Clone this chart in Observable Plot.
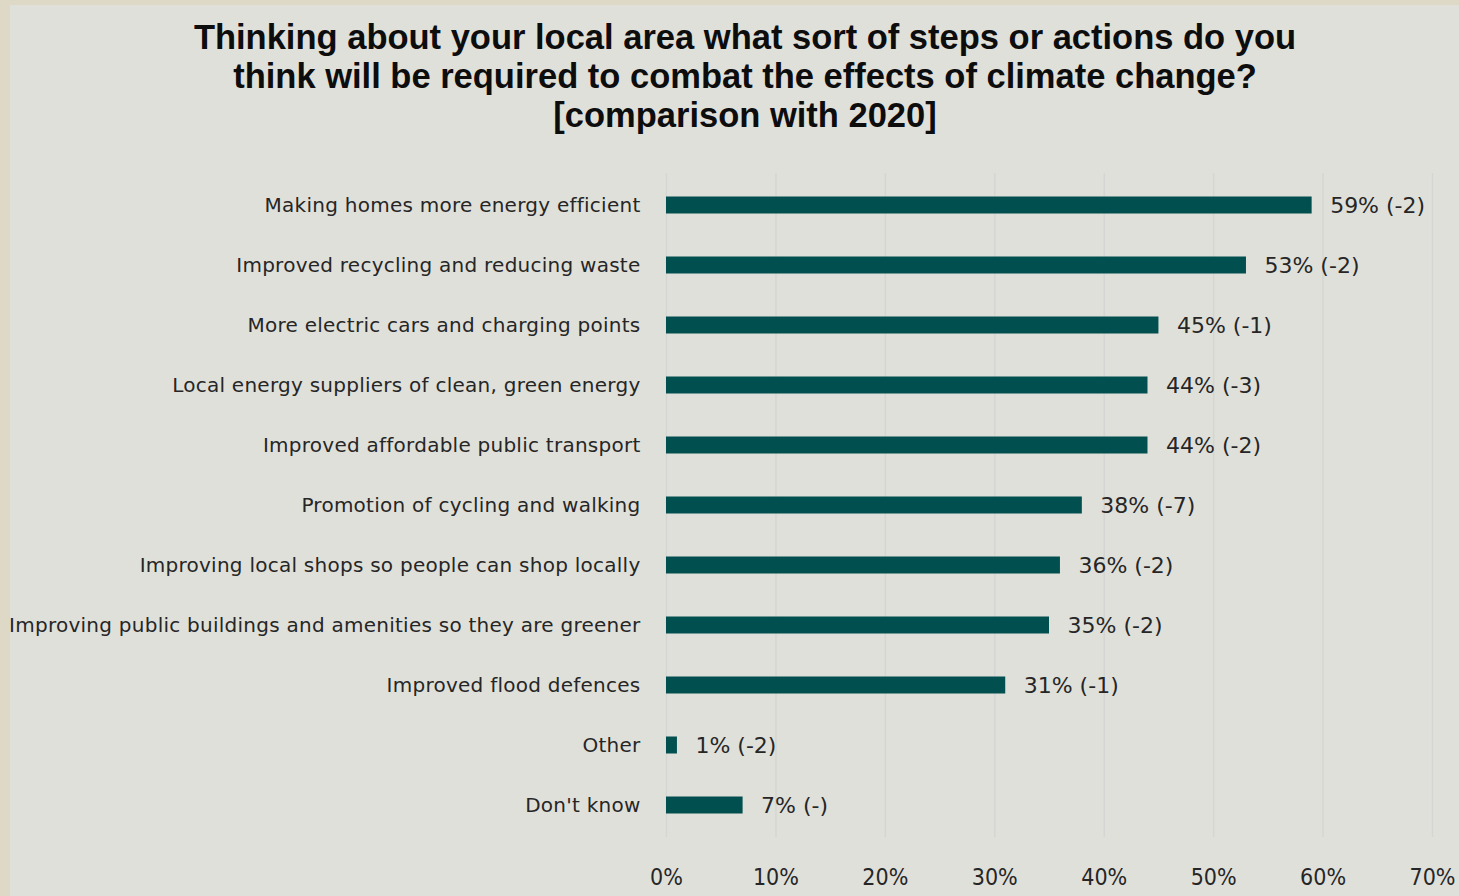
<!DOCTYPE html>
<html>
<head>
<meta charset="utf-8">
<script src="https://cdn.jsdelivr.net/npm/d3@7"></script>
<script src="https://cdn.jsdelivr.net/npm/@observablehq/plot@0.6"></script>
<style>
  html, body { margin: 0; padding: 0; }
  body { width: 1459px; height: 896px; overflow: hidden; background: #ded8c7; position: relative; font-family: "Liberation Sans", Arial, sans-serif; }
  #panel { position: absolute; left: 10px; top: 5px; right: 0; bottom: 0; background: #e0e0da; }
  #title { position: absolute; left: 0; width: 1490px; top: 18px; text-align: center; font-weight: bold; font-size: 34.5px; line-height: 39px; color: #0d0d0d; font-family: "Liberation Sans", Arial, sans-serif; }
  #chart { position: absolute; left: 0; top: 0; }
  #chart svg { background: transparent; }
  #chart g[aria-label="y-axis tick label"] text { letter-spacing: 0.25px; }
</style>
</head>
<body>
<div id="panel"></div>
<div id="title">Thinking about your local area what sort of steps or actions do you<br>think will be required to combat the effects of climate change?<br>[comparison with 2020]</div>
<div id="chart"></div>
<script>
const categories = [
  "Making homes more energy efficient",
  "Improved recycling and reducing waste",
  "More electric cars and charging points",
  "Local energy suppliers of clean, green energy",
  "Improved affordable public transport",
  "Promotion of cycling and walking",
  "Improving local shops so people can shop locally",
  "Improving public buildings and amenities so they are greener",
  "Improved flood defences",
  "Other",
  "Don't know"
];
const values = [59, 53, 45, 44, 44, 38, 36, 35, 31, 1, 7];
const changes = ["-2", "-2", "-1", "-3", "-2", "-7", "-2", "-2", "-1", "-2", "-"];
const xTicks = [0, 10, 20, 30, 40, 50, 60, 70];

const data = categories.map((c, i) => ({
  category: c,
  value: values[i],
  label: `${values[i]}% (${changes[i]})`
}));

const chart = Plot.plot({
  width: 1459,
  height: 896,
  marginLeft: 666,
  marginRight: 27,
  marginTop: 173,
  marginBottom: 59,
  style: { background: "transparent", color: "#262626", fontFamily: "'DejaVu Sans', sans-serif" },
  x: { domain: [0, 70], ticks: xTicks, tickFormat: d => d + "%" },
  y: { domain: categories, padding: 0 },
  marks: [
    Plot.gridX(xTicks, { stroke: "#d5d5d3", strokeOpacity: 1, strokeWidth: 1.5 }),
    Plot.barX(data, { x: "value", y: "category", fill: "#024f4f", insetTop: 21.5, insetBottom: 21.5 }),
    Plot.text(data, { x: "value", y: "category", text: "label", textAnchor: "start", dx: 18, fontSize: 22, fill: "#262626" }),
    Plot.axisY({ tickSize: 0, tickPadding: 26, fontSize: 20, label: null }),
    Plot.axisX(xTicks, { tickSize: 0, tickPadding: 31, fontSize: 23, label: null, tickFormat: d => d + "%", fontFamily: "'DejaVu Sans Condensed', sans-serif" })
  ]
});
document.getElementById("chart").appendChild(chart);
</script>
</body>
</html>
